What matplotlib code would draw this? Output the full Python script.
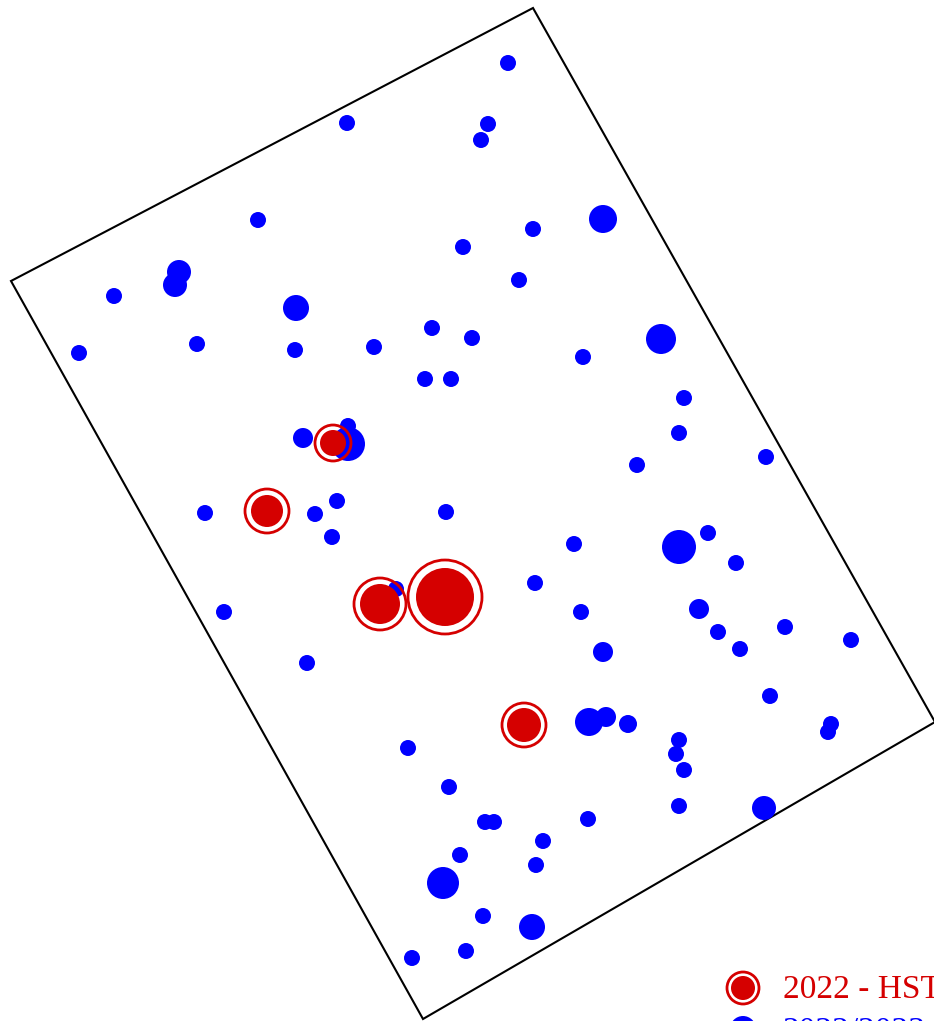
"""
Peta sebaran titik 2022 - HST dan 2022/2023 pada petak yang diputar.
"""

import matplotlib
matplotlib.use('Agg')
import matplotlib.pyplot as plt
from matplotlib.patches import Circle, Polygon

# batas petak (koordinat gambar)
plot_x = [533, 935, 423, 11]
plot_y = [8, 722, 1019, 281]

# titik 2022/2023 (biru)
blue_x = [508, 347, 488, 481, 258, 603, 533, 463, 179, 175, 114, 519, 296, 432, 472, 197,
          79, 295, 374, 661, 583, 425, 451, 684, 679, 348, 348, 303, 637, 766, 337, 205,
          315, 446, 332, 574, 679, 708, 736, 396, 535, 224, 581, 699, 718, 785, 740, 851,
          603, 307, 770, 589, 606, 628, 831, 828, 679, 676, 684, 408, 449, 679, 764, 485,
          494, 588, 543, 460, 536, 443, 483, 532, 466, 412]
blue_y = [63, 123, 124, 140, 220, 219, 229, 247, 272, 285, 296, 280, 308, 328, 338, 344,
          353, 350, 347, 339, 357, 379, 379, 398, 433, 426, 444, 438, 465, 457, 501, 513,
          514, 512, 537, 544, 547, 533, 563, 589, 583, 612, 612, 609, 632, 627, 649, 640,
          652, 663, 696, 722, 717, 724, 724, 732, 740, 754, 770, 748, 787, 806, 808, 822,
          822, 819, 841, 855, 865, 883, 916, 927, 951, 958]
blue_r = [8, 8, 8, 8, 8, 14, 8, 8, 12, 12, 8, 8, 13, 8, 8, 8,
          8, 8, 8, 15, 8, 8, 8, 8, 8, 8, 17, 10, 8, 8, 8, 8,
          8, 8, 8, 8, 17, 8, 8, 8, 8, 8, 8, 10, 8, 8, 8, 8,
          10, 8, 8, 14, 10, 9, 8, 8, 8, 8, 8, 8, 8, 8, 12, 8,
          8, 8, 8, 8, 8, 16, 8, 13, 8, 8]

# titik 2022 - HST (merah)
red_x = [333, 267, 380, 445, 524]
red_y = [443, 511, 604, 597, 725]
red_r = [13, 16, 20, 29, 17]
red_ring = [18, 22, 26, 37, 22]

BLUE = '#0000ff'
RED = '#d50000'

fig = plt.figure(figsize=(9.34, 10.21), dpi=100)
ax = fig.add_axes([0, 0, 1, 1])
ax.set_xlim(0, 934)
ax.set_ylim(1021, 0)
ax.axis('off')

ax.add_patch(Polygon(list(zip(plot_x, plot_y)), closed=True, fill=False,
                     edgecolor='black', linewidth=1.5, zorder=1))

for x, y, r in zip(blue_x, blue_y, blue_r):
    ax.add_patch(Circle((x, y), r, facecolor=BLUE, edgecolor='none', zorder=2))

for x, y, r, rr in zip(red_x, red_y, red_r, red_ring):
    ax.add_patch(Circle((x, y), r, facecolor=RED, edgecolor='none', zorder=3))
    ax.add_patch(Circle((x, y), rr, fill=False, edgecolor=RED, linewidth=2, zorder=3))

# legenda
ax.add_patch(Circle((743, 988), 12, facecolor=RED, edgecolor='none', zorder=4))
ax.add_patch(Circle((743, 988), 16, fill=False, edgecolor=RED, linewidth=2, zorder=4))
ax.text(783, 998, '2022 - HST', color=RED, fontsize=24, family='Liberation Serif',
        ha='left', va='baseline', zorder=4)
ax.add_patch(Circle((743, 1029), 13, facecolor=BLUE, edgecolor='none', zorder=4))
ax.text(783, 1040, '2022/2023', color=BLUE, fontsize=24, family='Liberation Serif',
        ha='left', va='baseline', zorder=4)

fig.savefig('out.png', dpi=100)
